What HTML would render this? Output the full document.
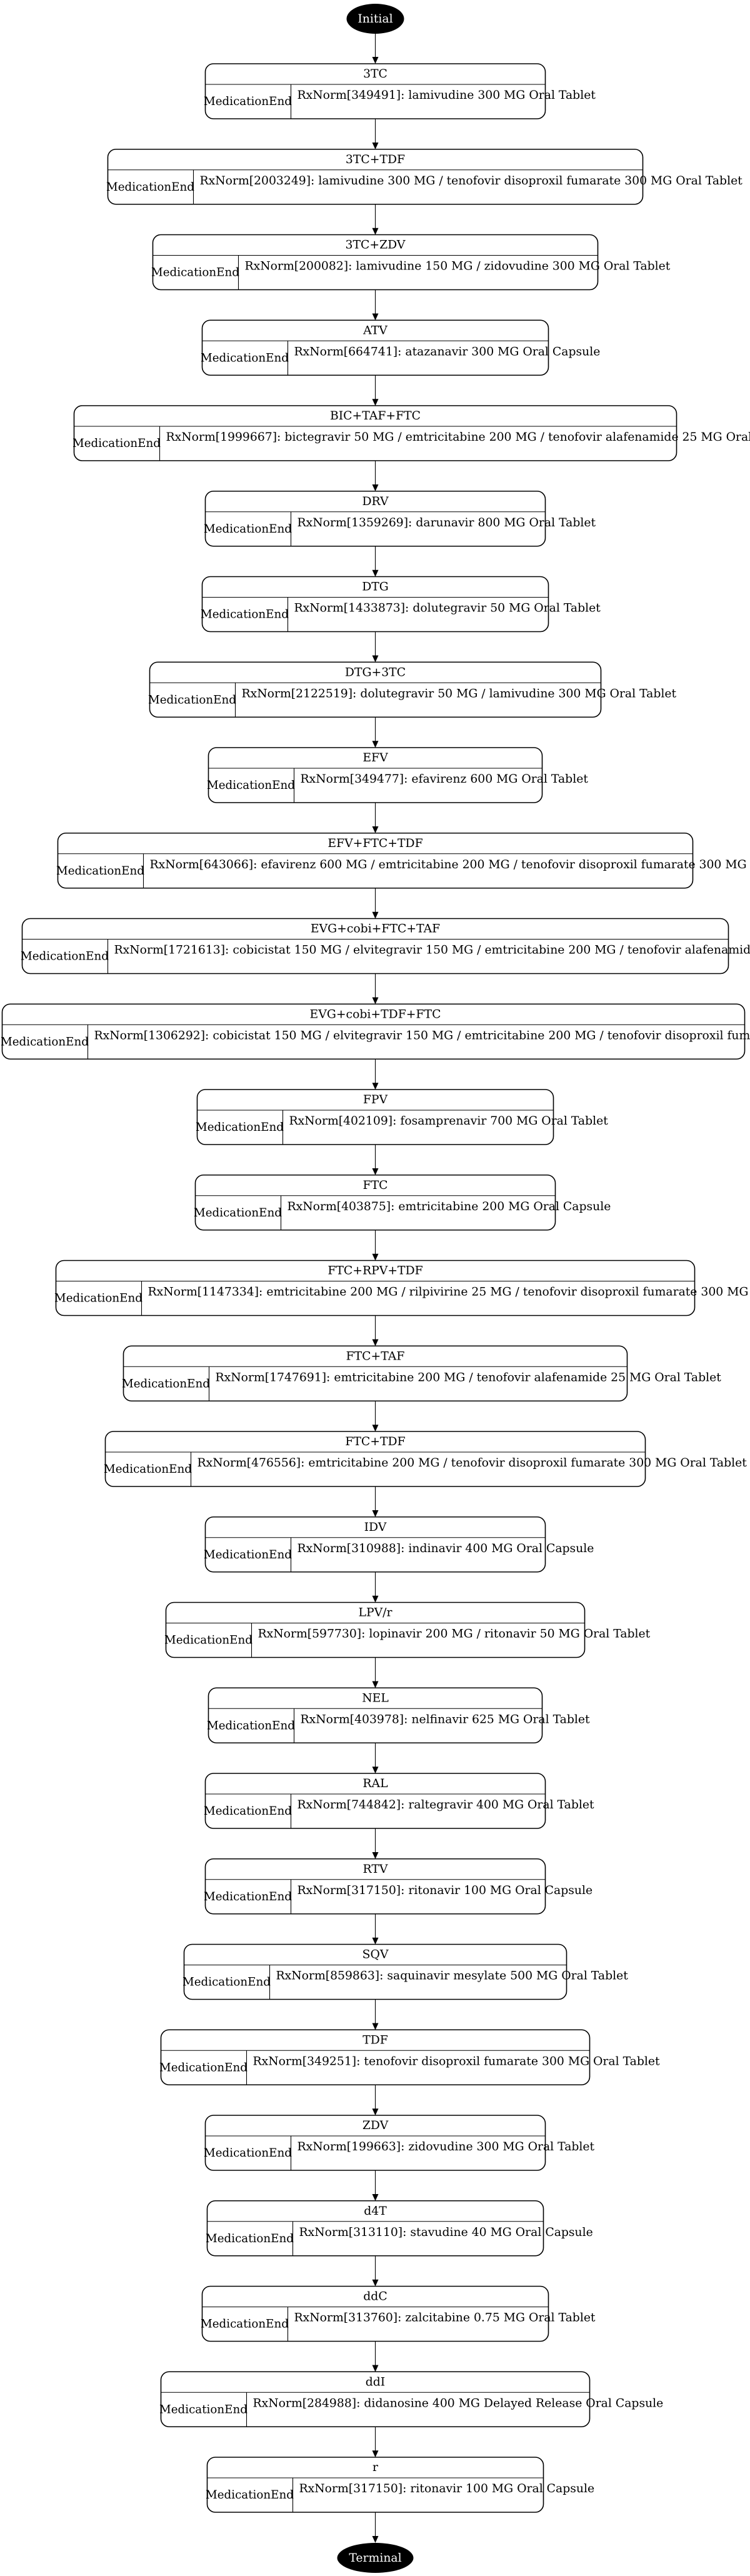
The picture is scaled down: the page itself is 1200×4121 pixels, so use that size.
<!DOCTYPE html>
<html><head><meta charset="utf-8"><style>
html,body{margin:0;padding:0;background:#fff;width:1200px;height:4121px;overflow:hidden}
svg{display:block}
text{font-family:"DejaVu Serif","Liberation Serif",serif;font-size:18.8px;fill:#000}
.b{fill:none;stroke:#000;stroke-width:1.6}
.l{stroke:#000;stroke-width:1.1}
.h{text-anchor:middle}
</style></head><body>
<svg width="1200" height="4121" viewBox="0 0 1200 4121" xmlns="http://www.w3.org/2000/svg">
<defs>
<g id="arr"><line class="l" x1="603" y1="88" x2="603" y2="127"/><polygon points="598,126 608,126 603,137" fill="#000"/></g>
</defs>
<g transform="translate(-2.5,0)">
<ellipse cx="603" cy="30" rx="46" ry="24" fill="#000"/>
<text x="603" y="36" class="h" style="fill:#fff">Initial</text>
<line class="l" x1="603" y1="54" x2="603" y2="91"/><polygon points="598,91 608,91 603,102" fill="#000"/>

<g transform="translate(0,102)"><rect class="b" x="331" y="0" width="544" height="88" rx="13"/><line class="l" x1="331" y1="33" x2="875" y2="33"/><line class="l" x1="468" y1="33" x2="468" y2="88"/><text x="603" y="22" class="h">3TC</text><text x="399" y="66" class="h" textLength="141" lengthAdjust="spacingAndGlyphs">MedicationEnd</text><text x="478" y="56">RxNorm[349491]: lamivudine 300 MG Oral Tablet</text><use href="#arr"/></g>

<g transform="translate(0,238.75)"><rect class="b" x="175" y="0" width="856" height="88" rx="13"/><line class="l" x1="175" y1="33" x2="1031" y2="33"/><line class="l" x1="312" y1="33" x2="312" y2="88"/><text x="603" y="22" class="h">3TC+TDF</text><text x="243" y="66" class="h" textLength="141" lengthAdjust="spacingAndGlyphs">MedicationEnd</text><text x="322" y="56">RxNorm[2003249]: lamivudine 300 MG / tenofovir disoproxil fumarate 300 MG Oral Tablet</text><use href="#arr"/></g>

<g transform="translate(0,375.5)"><rect class="b" x="247" y="0" width="712" height="88" rx="13"/><line class="l" x1="247" y1="33" x2="959" y2="33"/><line class="l" x1="384" y1="33" x2="384" y2="88"/><text x="603" y="22" class="h">3TC+ZDV</text><text x="315" y="66" class="h" textLength="141" lengthAdjust="spacingAndGlyphs">MedicationEnd</text><text x="394" y="56">RxNorm[200082]: lamivudine 150 MG / zidovudine 300 MG Oral Tablet</text><use href="#arr"/></g>

<g transform="translate(0,512.25)"><rect class="b" x="326" y="0" width="554" height="88" rx="13"/><line class="l" x1="326" y1="33" x2="880" y2="33"/><line class="l" x1="463" y1="33" x2="463" y2="88"/><text x="603" y="22" class="h">ATV</text><text x="394" y="66" class="h" textLength="141" lengthAdjust="spacingAndGlyphs">MedicationEnd</text><text x="473" y="56">RxNorm[664741]: atazanavir 300 MG Oral Capsule</text><use href="#arr"/></g>

<g transform="translate(0,649)"><rect class="b" x="121" y="0" width="964" height="88" rx="13"/><line class="l" x1="121" y1="33" x2="1085" y2="33"/><line class="l" x1="258" y1="33" x2="258" y2="88"/><text x="603" y="22" class="h">BIC+TAF+FTC</text><text x="189" y="66" class="h" textLength="141" lengthAdjust="spacingAndGlyphs">MedicationEnd</text><text x="268" y="56">RxNorm[1999667]: bictegravir 50 MG / emtricitabine 200 MG / tenofovir alafenamide 25 MG Oral Tablet</text><use href="#arr"/></g>

<g transform="translate(0,785.75)"><rect class="b" x="331" y="0" width="544" height="88" rx="13"/><line class="l" x1="331" y1="33" x2="875" y2="33"/><line class="l" x1="468" y1="33" x2="468" y2="88"/><text x="603" y="22" class="h">DRV</text><text x="399" y="66" class="h" textLength="141" lengthAdjust="spacingAndGlyphs">MedicationEnd</text><text x="478" y="56">RxNorm[1359269]: darunavir 800 MG Oral Tablet</text><use href="#arr"/></g>

<g transform="translate(0,922.5)"><rect class="b" x="326" y="0" width="554" height="88" rx="13"/><line class="l" x1="326" y1="33" x2="880" y2="33"/><line class="l" x1="463" y1="33" x2="463" y2="88"/><text x="603" y="22" class="h">DTG</text><text x="394" y="66" class="h" textLength="141" lengthAdjust="spacingAndGlyphs">MedicationEnd</text><text x="473" y="56">RxNorm[1433873]: dolutegravir 50 MG Oral Tablet</text><use href="#arr"/></g>

<g transform="translate(0,1059.25)"><rect class="b" x="242" y="0" width="722" height="88" rx="13"/><line class="l" x1="242" y1="33" x2="964" y2="33"/><line class="l" x1="379" y1="33" x2="379" y2="88"/><text x="603" y="22" class="h">DTG+3TC</text><text x="310" y="66" class="h" textLength="141" lengthAdjust="spacingAndGlyphs">MedicationEnd</text><text x="389" y="56">RxNorm[2122519]: dolutegravir 50 MG / lamivudine 300 MG Oral Tablet</text><use href="#arr"/></g>

<g transform="translate(0,1196)"><rect class="b" x="336" y="0" width="534" height="88" rx="13"/><line class="l" x1="336" y1="33" x2="870" y2="33"/><line class="l" x1="473" y1="33" x2="473" y2="88"/><text x="603" y="22" class="h">EFV</text><text x="404" y="66" class="h" textLength="141" lengthAdjust="spacingAndGlyphs">MedicationEnd</text><text x="483" y="56">RxNorm[349477]: efavirenz 600 MG Oral Tablet</text><use href="#arr"/></g>

<g transform="translate(0,1332.75)"><rect class="b" x="95" y="0" width="1016" height="88" rx="13"/><line class="l" x1="95" y1="33" x2="1111" y2="33"/><line class="l" x1="232" y1="33" x2="232" y2="88"/><text x="603" y="22" class="h">EFV+FTC+TDF</text><text x="163" y="66" class="h" textLength="141" lengthAdjust="spacingAndGlyphs">MedicationEnd</text><text x="242" y="56">RxNorm[643066]: efavirenz 600 MG / emtricitabine 200 MG / tenofovir disoproxil fumarate 300 MG Oral Tablet</text><use href="#arr"/></g>

<g transform="translate(0,1469.5)"><rect class="b" x="38" y="0" width="1130" height="88" rx="13"/><line class="l" x1="38" y1="33" x2="1168" y2="33"/><line class="l" x1="175" y1="33" x2="175" y2="88"/><text x="603" y="22" class="h">EVG+cobi+FTC+TAF</text><text x="106" y="66" class="h" textLength="141" lengthAdjust="spacingAndGlyphs">MedicationEnd</text><text x="185" y="56">RxNorm[1721613]: cobicistat 150 MG / elvitegravir 150 MG / emtricitabine 200 MG / tenofovir alafenamide 10 MG Oral Tablet</text><use href="#arr"/></g>

<g transform="translate(0,1606.25)"><rect class="b" x="6" y="0" width="1188" height="88" rx="13"/><line class="l" x1="6" y1="33" x2="1194" y2="33"/><line class="l" x1="143" y1="33" x2="143" y2="88"/><text x="603" y="22" class="h">EVG+cobi+TDF+FTC</text><text x="74" y="66" class="h" textLength="141" lengthAdjust="spacingAndGlyphs">MedicationEnd</text><text x="153" y="56">RxNorm[1306292]: cobicistat 150 MG / elvitegravir 150 MG / emtricitabine 200 MG / tenofovir disoproxil fumarate 300 MG Oral Tablet</text><use href="#arr"/></g>

<g transform="translate(0,1743)"><rect class="b" x="318" y="0" width="570" height="88" rx="13"/><line class="l" x1="318" y1="33" x2="888" y2="33"/><line class="l" x1="455" y1="33" x2="455" y2="88"/><text x="603" y="22" class="h">FPV</text><text x="386" y="66" class="h" textLength="141" lengthAdjust="spacingAndGlyphs">MedicationEnd</text><text x="465" y="56">RxNorm[402109]: fosamprenavir 700 MG Oral Tablet</text><use href="#arr"/></g>

<g transform="translate(0,1879.75)"><rect class="b" x="315" y="0" width="576" height="88" rx="13"/><line class="l" x1="315" y1="33" x2="891" y2="33"/><line class="l" x1="452" y1="33" x2="452" y2="88"/><text x="603" y="22" class="h">FTC</text><text x="383" y="66" class="h" textLength="141" lengthAdjust="spacingAndGlyphs">MedicationEnd</text><text x="462" y="56">RxNorm[403875]: emtricitabine 200 MG Oral Capsule</text><use href="#arr"/></g>

<g transform="translate(0,2016.5)"><rect class="b" x="92" y="0" width="1022" height="88" rx="13"/><line class="l" x1="92" y1="33" x2="1114" y2="33"/><line class="l" x1="229" y1="33" x2="229" y2="88"/><text x="603" y="22" class="h">FTC+RPV+TDF</text><text x="160" y="66" class="h" textLength="141" lengthAdjust="spacingAndGlyphs">MedicationEnd</text><text x="239" y="56">RxNorm[1147334]: emtricitabine 200 MG / rilpivirine 25 MG / tenofovir disoproxil fumarate 300 MG Oral Tablet</text><use href="#arr"/></g>

<g transform="translate(0,2153.25)"><rect class="b" x="200" y="0" width="806" height="88" rx="13"/><line class="l" x1="200" y1="33" x2="1006" y2="33"/><line class="l" x1="337" y1="33" x2="337" y2="88"/><text x="603" y="22" class="h">FTC+TAF</text><text x="268" y="66" class="h" textLength="141" lengthAdjust="spacingAndGlyphs">MedicationEnd</text><text x="347" y="56">RxNorm[1747691]: emtricitabine 200 MG / tenofovir alafenamide 25 MG Oral Tablet</text><use href="#arr"/></g>

<g transform="translate(0,2290)"><rect class="b" x="171" y="0" width="864" height="88" rx="13"/><line class="l" x1="171" y1="33" x2="1035" y2="33"/><line class="l" x1="308" y1="33" x2="308" y2="88"/><text x="603" y="22" class="h">FTC+TDF</text><text x="239" y="66" class="h" textLength="141" lengthAdjust="spacingAndGlyphs">MedicationEnd</text><text x="318" y="56">RxNorm[476556]: emtricitabine 200 MG / tenofovir disoproxil fumarate 300 MG Oral Tablet</text><use href="#arr"/></g>

<g transform="translate(0,2426.75)"><rect class="b" x="331" y="0" width="544" height="88" rx="13"/><line class="l" x1="331" y1="33" x2="875" y2="33"/><line class="l" x1="468" y1="33" x2="468" y2="88"/><text x="603" y="22" class="h">IDV</text><text x="399" y="66" class="h" textLength="141" lengthAdjust="spacingAndGlyphs">MedicationEnd</text><text x="478" y="56">RxNorm[310988]: indinavir 400 MG Oral Capsule</text><use href="#arr"/></g>

<g transform="translate(0,2563.5)"><rect class="b" x="268" y="0" width="670" height="88" rx="13"/><line class="l" x1="268" y1="33" x2="938" y2="33"/><line class="l" x1="405" y1="33" x2="405" y2="88"/><text x="603" y="22" class="h">LPV/r</text><text x="336" y="66" class="h" textLength="141" lengthAdjust="spacingAndGlyphs">MedicationEnd</text><text x="415" y="56">RxNorm[597730]: lopinavir 200 MG / ritonavir 50 MG Oral Tablet</text><use href="#arr"/></g>

<g transform="translate(0,2700.25)"><rect class="b" x="336" y="0" width="534" height="88" rx="13"/><line class="l" x1="336" y1="33" x2="870" y2="33"/><line class="l" x1="473" y1="33" x2="473" y2="88"/><text x="603" y="22" class="h">NEL</text><text x="404" y="66" class="h" textLength="141" lengthAdjust="spacingAndGlyphs">MedicationEnd</text><text x="483" y="56">RxNorm[403978]: nelfinavir 625 MG Oral Tablet</text><use href="#arr"/></g>

<g transform="translate(0,2837)"><rect class="b" x="331" y="0" width="544" height="88" rx="13"/><line class="l" x1="331" y1="33" x2="875" y2="33"/><line class="l" x1="468" y1="33" x2="468" y2="88"/><text x="603" y="22" class="h">RAL</text><text x="399" y="66" class="h" textLength="141" lengthAdjust="spacingAndGlyphs">MedicationEnd</text><text x="478" y="56">RxNorm[744842]: raltegravir 400 MG Oral Tablet</text><use href="#arr"/></g>

<g transform="translate(0,2973.75)"><rect class="b" x="331" y="0" width="544" height="88" rx="13"/><line class="l" x1="331" y1="33" x2="875" y2="33"/><line class="l" x1="468" y1="33" x2="468" y2="88"/><text x="603" y="22" class="h">RTV</text><text x="399" y="66" class="h" textLength="141" lengthAdjust="spacingAndGlyphs">MedicationEnd</text><text x="478" y="56">RxNorm[317150]: ritonavir 100 MG Oral Capsule</text><use href="#arr"/></g>

<g transform="translate(0,3110.5)"><rect class="b" x="297" y="0" width="612" height="88" rx="13"/><line class="l" x1="297" y1="33" x2="909" y2="33"/><line class="l" x1="434" y1="33" x2="434" y2="88"/><text x="603" y="22" class="h">SQV</text><text x="365" y="66" class="h" textLength="141" lengthAdjust="spacingAndGlyphs">MedicationEnd</text><text x="444" y="56">RxNorm[859863]: saquinavir mesylate 500 MG Oral Tablet</text><use href="#arr"/></g>

<g transform="translate(0,3247.25)"><rect class="b" x="260" y="0" width="686" height="88" rx="13"/><line class="l" x1="260" y1="33" x2="946" y2="33"/><line class="l" x1="397" y1="33" x2="397" y2="88"/><text x="603" y="22" class="h">TDF</text><text x="328" y="66" class="h" textLength="141" lengthAdjust="spacingAndGlyphs">MedicationEnd</text><text x="407" y="56">RxNorm[349251]: tenofovir disoproxil fumarate 300 MG Oral Tablet</text><use href="#arr"/></g>

<g transform="translate(0,3384)"><rect class="b" x="331" y="0" width="544" height="88" rx="13"/><line class="l" x1="331" y1="33" x2="875" y2="33"/><line class="l" x1="468" y1="33" x2="468" y2="88"/><text x="603" y="22" class="h">ZDV</text><text x="399" y="66" class="h" textLength="141" lengthAdjust="spacingAndGlyphs">MedicationEnd</text><text x="478" y="56">RxNorm[199663]: zidovudine 300 MG Oral Tablet</text><use href="#arr"/></g>

<g transform="translate(0,3520.75)"><rect class="b" x="334" y="0" width="538" height="88" rx="13"/><line class="l" x1="334" y1="33" x2="872" y2="33"/><line class="l" x1="471" y1="33" x2="471" y2="88"/><text x="603" y="22" class="h">d4T</text><text x="402" y="66" class="h" textLength="141" lengthAdjust="spacingAndGlyphs">MedicationEnd</text><text x="481" y="56">RxNorm[313110]: stavudine 40 MG Oral Capsule</text><use href="#arr"/></g>

<g transform="translate(0,3657.5)"><rect class="b" x="326" y="0" width="554" height="88" rx="13"/><line class="l" x1="326" y1="33" x2="880" y2="33"/><line class="l" x1="463" y1="33" x2="463" y2="88"/><text x="603" y="22" class="h">ddC</text><text x="394" y="66" class="h" textLength="141" lengthAdjust="spacingAndGlyphs">MedicationEnd</text><text x="473" y="56">RxNorm[313760]: zalcitabine 0.75 MG Oral Tablet</text><use href="#arr"/></g>

<g transform="translate(0,3794.25)"><rect class="b" x="260" y="0" width="686" height="88" rx="13"/><line class="l" x1="260" y1="33" x2="946" y2="33"/><line class="l" x1="397" y1="33" x2="397" y2="88"/><text x="603" y="22" class="h">ddI</text><text x="328" y="66" class="h" textLength="141" lengthAdjust="spacingAndGlyphs">MedicationEnd</text><text x="407" y="56">RxNorm[284988]: didanosine 400 MG Delayed Release Oral Capsule</text><use href="#arr"/></g>

<g transform="translate(0,3931)"><rect class="b" x="334" y="0" width="538" height="88" rx="13"/><line class="l" x1="334" y1="33" x2="872" y2="33"/><line class="l" x1="471" y1="33" x2="471" y2="88"/><text x="603" y="22" class="h">r</text><text x="402" y="66" class="h" textLength="141" lengthAdjust="spacingAndGlyphs">MedicationEnd</text><text x="481" y="56">RxNorm[317150]: ritonavir 100 MG Oral Capsule</text><use href="#arr"/></g>

<ellipse cx="603" cy="4092" rx="61" ry="24" fill="#000"/>
<text x="603" y="4098" class="h" style="fill:#fff">Terminal</text>
</g>
</svg>
</body></html>
